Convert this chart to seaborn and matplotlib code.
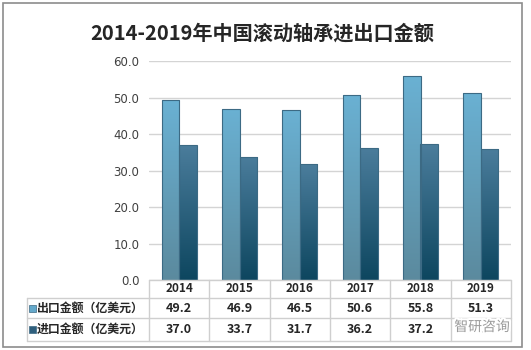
import numpy as np
import pandas as pd
import matplotlib
matplotlib.use("Agg")
import matplotlib.pyplot as plt
import matplotlib.patheffects as pe
from matplotlib.patches import Rectangle
from matplotlib.colors import LinearSegmentedColormap
import seaborn as sns

# ---- data ----
years = ["2014", "2015", "2016", "2017", "2018", "2019"]
export_vals = [49.2, 46.9, 46.5, 50.6, 55.8, 51.3]
import_vals = [37.0, 33.7, 31.7, 36.2, 37.2, 36.0]
series_names = ["出口金额（亿美元）", "进口金额（亿美元）"]
yticks = [0, 10, 20, 30, 40, 50, 60]
title = "2014-2019年中国滚动轴承进出口金额"

df = pd.DataFrame({
    "year": years * 2,
    "value": export_vals + import_vals,
    "series": [series_names[0]] * len(years) + [series_names[1]] * len(years),
})

sns.set_theme(style="white")
plt.rcParams["font.family"] = ["Noto Sans CJK SC", "DejaVu Sans"]

W, H = 531, 350
fig = plt.figure(figsize=(W / 100, H / 100), dpi=100)

def fx(px):
    return px / W

def fy(py):
    return 1 - py / H

# plot area in pixel coordinates
L, R, T, B = 149, 511, 61, 280
ax = fig.add_axes([fx(L), fy(B), fx(R - L), (B - T) / H])

colors = {series_names[0]: "#64A9CB", series_names[1]: "#3F7291"}
sns.barplot(data=df, x="year", y="value", hue="series", palette=colors,
            width=0.58, ax=ax, legend=False, edgecolor="#3C6A84", linewidth=0.8)

ax.set_yticks(yticks)
ax.set_yticklabels([f"{v:.1f}" for v in yticks], fontsize=8.5, color="#404040",
                   family=["DejaVu Sans"])
ax.tick_params(axis="y", length=0, pad=7)
ax.set_xticks([])
ax.set_xlabel("")
ax.set_ylabel("")
ax.yaxis.grid(True, color="#d4d4d4", linewidth=1)
ax.set_axisbelow(True)
for s in ax.spines.values():
    s.set_visible(False)

# gradient fill for bars
grads = [
    LinearSegmentedColormap.from_list("g1", ["#5B8A9E", "#6AB1D3"]),
    LinearSegmentedColormap.from_list("g2", ["#0D465F", "#4B7D9C"]),
]
grad = np.linspace(0, 1, 256).reshape(-1, 1)
for cont, cmap in zip(ax.containers, grads):
    for bar in cont:
        x0, w, h = bar.get_x(), bar.get_width(), bar.get_height()
        im = ax.imshow(grad, extent=[x0, x0 + w, 0, h], origin="lower",
                       aspect="auto", cmap=cmap, zorder=2)
        im.set_clip_path(bar)
        bar.set_facecolor("none")
        bar.set_zorder(3)
ax.set_xlim(-0.5, len(years) - 0.5)
ax.set_ylim(0, 60)

# overlay axes in pixel coordinates for frame, title and data table
ov = fig.add_axes([0, 0, 1, 1], facecolor="none")
ov.set_xlim(0, W)
ov.set_ylim(H, 0)
ov.axis("off")

ov.add_patch(Rectangle((3, 3), 519, 344, fill=False, edgecolor="#8c8c8c", linewidth=1.2))
ov.text(262, 33, title, ha="center", va="center", fontsize=14.5, fontweight="bold",
        color="#262626")

line_c = "#cfcfcf"
col_w = (R - L) / len(years)
row_y = [B, 298, 318, 341]
tab_left = 27
# horizontal lines
ov.plot([L, R], [row_y[0], row_y[0]], color=line_c, lw=1)
for yy in row_y[1:]:
    ov.plot([tab_left, R], [yy, yy], color=line_c, lw=1)
# vertical lines
ov.plot([tab_left, tab_left], [row_y[1], row_y[3]], color=line_c, lw=1)
for k in range(len(years) + 1):
    xx = L + k * col_w
    ov.plot([xx, xx], [row_y[0], row_y[3]], color=line_c, lw=1)

for k, yr in enumerate(years):
    cx = L + (k + 0.5) * col_w
    ov.text(cx, (row_y[0] + row_y[1]) / 2, yr, ha="center", va="center",
            fontsize=8.5, fontweight="bold", color="#262626")
    ov.text(cx, (row_y[1] + row_y[2]) / 2, f"{export_vals[k]:.1f}", ha="center",
            va="center", fontsize=9, fontweight="bold", color="#262626")
    ov.text(cx, (row_y[2] + row_y[3]) / 2, f"{import_vals[k]:.1f}", ha="center",
            va="center", fontsize=9, fontweight="bold", color="#262626")

marker_cols = ["#64A9CB", "#2F5F7D"]
for i, name in enumerate(series_names):
    cy = (row_y[i + 1] + row_y[i + 2]) / 2
    ov.add_patch(Rectangle((29, cy - 3.5), 7, 7, facecolor=marker_cols[i],
                           edgecolor="#3C6A84", linewidth=0.5))
    ov.text(37, cy, name, ha="left", va="center", fontsize=8.6,
            fontweight="bold", color="#262626")

# watermark
ov.text(482, 327, "智研咨询", ha="center", va="center", fontsize=10,
        color="#9a9a9a", zorder=10,
        path_effects=[pe.withStroke(linewidth=3, foreground="white")])

fig.savefig("out.png", dpi=100)
